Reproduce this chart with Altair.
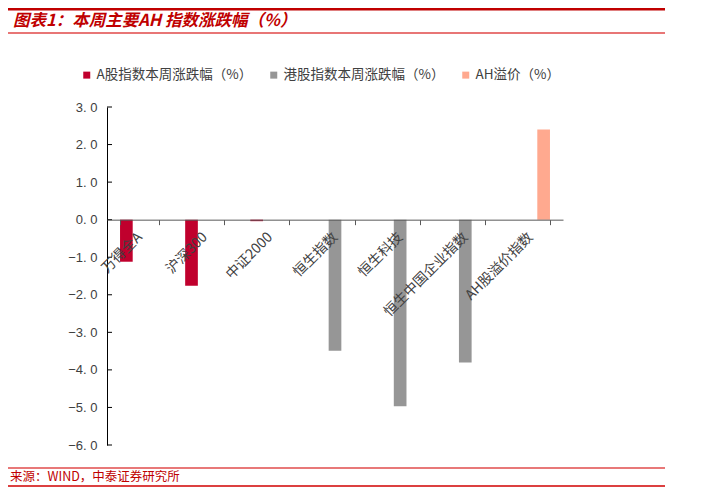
import altair as alt
import pandas as pd

# ---- data ----
categories = ["万得全A", "沪深300", "中证2000", "恒生指数", "恒生科技", "恒生中国企业指数", "AH股溢价指数"]
series_names = ["A股指数本周涨跌幅（%）", "港股指数本周涨跌幅（%）", "AH溢价（%）"]
series_index = [0, 0, 0, 1, 1, 1, 2]
values = [-1.12, -1.76, -0.04, -3.49, -4.97, -3.80, 2.40]
series_colors = ["#C0002D", "#969696", "#FFA98F"]
y_ticks = [-6, -5, -4, -3, -2, -1, 0, 1, 2, 3]
y_min, y_max = -6, 3

title_text = "图表1：本周主要AH 指数涨跌幅（%）"
source_text = "来源：WIND，中泰证券研究所"

df = pd.DataFrame({
    "cat": categories,
    "series": [series_names[i] for i in series_index],
    "value": values,
})
tick_df = pd.DataFrame({"v": y_ticks})
one = pd.DataFrame({"a": [0]})

W, H = 456, 338
zero_offset = -(H - H * (y_max - 0) / (y_max - y_min))

CJK = "Noto Sans CJK SC"
RED = "#C00000"

y_axis = alt.Axis(title=None, values=y_ticks, ticks=False, labelPadding=10,
                  labelFontSize=13, labelFont="Liberation Sans",
                  labelColor="#404040", domainColor="black", grid=False,
                  labelOverlap=False,
                  labelExpr="replace(format(datum.value, '.1f'), '.', '. ')")
y_scale = alt.Scale(domain=[y_min, y_max], nice=False, zero=False)

bars = alt.Chart(df).mark_bar().encode(
    x=alt.X("cat:N", sort=categories,
            scale=alt.Scale(paddingInner=0.4, paddingOuter=0.2),
            axis=alt.Axis(title=None, labelAngle=-45, labelAlign="right",
                          labelBaseline="middle", labelFontSize=14, labelFont=CJK,
                          labelColor="#404040", tickBand="extent", tickSize=5,
                          tickColor="#595959", domainColor="#595959",
                          offset=zero_offset, labelPadding=10, zindex=1,
                          grid=False, labelOverlap=False, labelLimit=300)),
    xOffset=alt.XOffset("series:N", sort=series_names,
                        scale=alt.Scale(domain=series_names, paddingInner=0.04)),
    y=alt.Y("value:Q", scale=y_scale, axis=y_axis),
    color=alt.Color("series:N", sort=series_names,
                    scale=alt.Scale(domain=series_names, range=series_colors),
                    legend=alt.Legend(title=None, orient="none", legendX=-27, legendY=-39,
                                      direction="horizontal", symbolType="square",
                                      symbolSize=49, symbolStrokeWidth=0,
                                      labelFontSize=13.5, labelFont=CJK,
                                      labelColor="#404040", labelOffset=3,
                                      labelLimit=300,
                                      columnPadding=14, padding=0)),
)

yticks = alt.Chart(tick_df).mark_rule(color="black", strokeWidth=1).encode(
    y=alt.Y("v:Q", scale=y_scale, axis=y_axis), x=alt.value(0), x2=alt.value(5)
)

def hline(y, color, sw):
    return alt.Chart(one).mark_rule(color=color, strokeWidth=sw).encode(
        x=alt.value(-99), x2=alt.value(558), y=alt.value(y)
    )

top_line = hline(-98, "#C00000", 3)
under_title = hline(-74, "#E04848", 1.5)
foot_line1 = hline(361, "#E87878", 2)
foot_line2 = hline(379, "#D00000", 1.5)

title = alt.Chart(one).mark_text(
    text=title_text, font=CJK, fontSize=16.5, fontWeight="bold", fontStyle="italic",
    color=RED, align="left", baseline="middle"
).encode(x=alt.value(-94), y=alt.value(-86))

source = alt.Chart(one).mark_text(
    text=source_text, font=CJK, fontSize=12.5, color=RED, align="left", baseline="middle"
).encode(x=alt.value(-97), y=alt.value(370))

chart = alt.layer(
    bars, yticks, top_line, under_title, foot_line1, foot_line2, title, source
).properties(
    width=W, height=H,
    autosize=alt.AutoSizeParams(type="none"),
    padding={"left": 99, "top": 99, "right": 120, "bottom": 45},
).configure_view(stroke=None)

chart.save("out.html", embed_options={"renderer": "svg", "actions": False})
